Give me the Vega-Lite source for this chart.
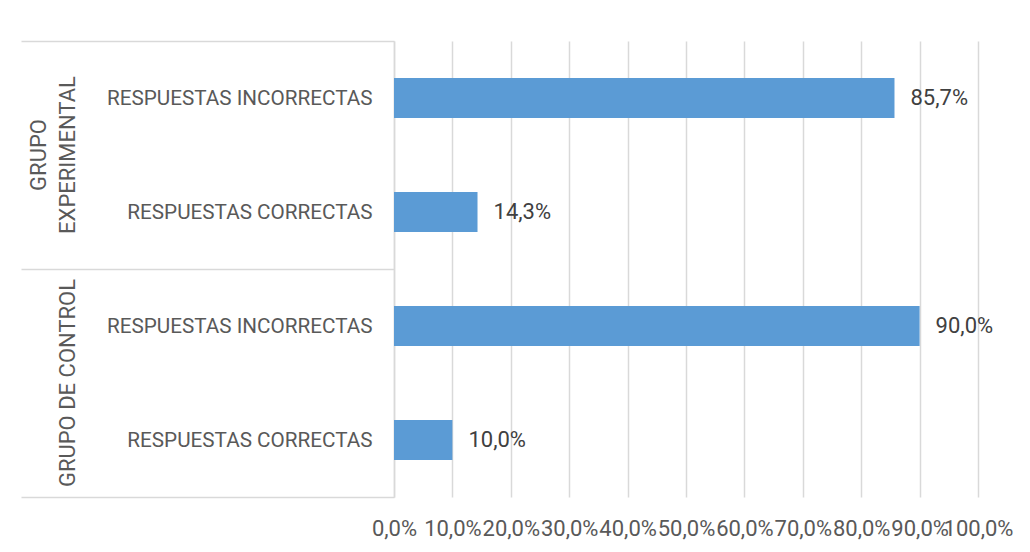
{
  "$schema": "https://vega.github.io/schema/vega-lite/v6.json",
  "width": 584,
  "height": 456,
  "autosize": {"type": "none"},
  "padding": {"left": 394, "top": 41, "right": 52, "bottom": 55},
  "background": "white",
  "config": {
    "view": {"stroke": null},
    "font": "Roboto",
    "locale": {"number": {"decimal": ",", "thousands": ".", "grouping": [3], "currency": ["", " €"]}}
  },
  "data": {
    "values": [
      {"clave": "GRUPO EXPERIMENTAL|RESPUESTAS INCORRECTAS", "grupo": "GRUPO EXPERIMENTAL", "respuesta": "RESPUESTAS INCORRECTAS", "valor": 0.857},
      {"clave": "GRUPO EXPERIMENTAL|RESPUESTAS CORRECTAS", "grupo": "GRUPO EXPERIMENTAL", "respuesta": "RESPUESTAS CORRECTAS", "valor": 0.143},
      {"clave": "GRUPO DE CONTROL|RESPUESTAS INCORRECTAS", "grupo": "GRUPO DE CONTROL", "respuesta": "RESPUESTAS INCORRECTAS", "valor": 0.9},
      {"clave": "GRUPO DE CONTROL|RESPUESTAS CORRECTAS", "grupo": "GRUPO DE CONTROL", "respuesta": "RESPUESTAS CORRECTAS", "valor": 0.1}
    ]
  },
  "layer": [
    {
      "mark": {"type": "bar", "color": "#5B9BD5", "height": {"band": 0.35}},
      "encoding": {
        "x": {
          "field": "valor",
          "type": "quantitative",
          "scale": {"domain": [0, 1]},
          "axis": {
            "title": null,
            "values": [0, 0.1, 0.2, 0.3, 0.4, 0.5, 0.6, 0.7, 0.8, 0.9, 1],
            "format": ".1%",
            "grid": true,
            "gridColor": "#d9d9d9",
            "gridWidth": 1.5,
            "domain": false,
            "ticks": false,
            "labelOverlap": false,
            "labelFlush": false,
            "labelFontSize": 22,
            "labelColor": "#595959",
            "labelBaseline": "middle",
            "labelPadding": 31
          }
        },
        "y": {
          "field": "clave",
          "type": "nominal",
          "sort": null,
          "scale": {"paddingInner": 0, "paddingOuter": 0},
          "axis": {
            "title": null,
            "tickBand": "extent",
            "tickSize": 373,
            "tickWidth": 1.5,
            "tickColor": {"condition": {"test": "indexof(datum.value || '', '|RESPUESTAS INCORRECTAS') >= 0", "value": "transparent"}, "value": "#d9d9d9"},
            "domainColor": "#d9d9d9",
            "domainWidth": 1.5,
            "labelPadding": -351,
            "labelExpr": "split(datum.value, '|')[1]",
            "labelFontSize": 20.7,
            "labelColor": "#595959",
            "labelAlign": "right",
            "labelBaseline": "middle",
            "labelLimit": 400
          }
        }
      }
    },
    {
      "mark": {"type": "text", "align": "left", "baseline": "middle", "dx": 16, "fontSize": 22, "color": "#404040"},
      "encoding": {
        "x": {"field": "valor", "type": "quantitative"},
        "y": {
          "field": "clave",
          "type": "nominal",
          "sort": null,
          "axis": {
            "orient": "left",
            "title": null,
            "ticks": false,
            "domain": false,
            "labelAngle": -90,
            "labelAlign": "center",
            "labelBaseline": "bottom",
            "labelOffset": 57,
            "labelPadding": 344,
            "labelLineHeight": 29.5,
            "labelFontSize": 22,
            "labelColor": "#595959",
            "labelLimit": 400,
            "labelExpr": "datum.value == 'GRUPO EXPERIMENTAL|RESPUESTAS INCORRECTAS' ? ['GRUPO', 'EXPERIMENTAL'] : (datum.value == 'GRUPO DE CONTROL|RESPUESTAS INCORRECTAS' ? [' ', 'GRUPO DE CONTROL'] : '')"
          }
        },
        "text": {"field": "valor", "type": "quantitative", "format": ".1%"}
      }
    }
  ],
  "resolve": {"axis": {"y": "independent"}}
}
